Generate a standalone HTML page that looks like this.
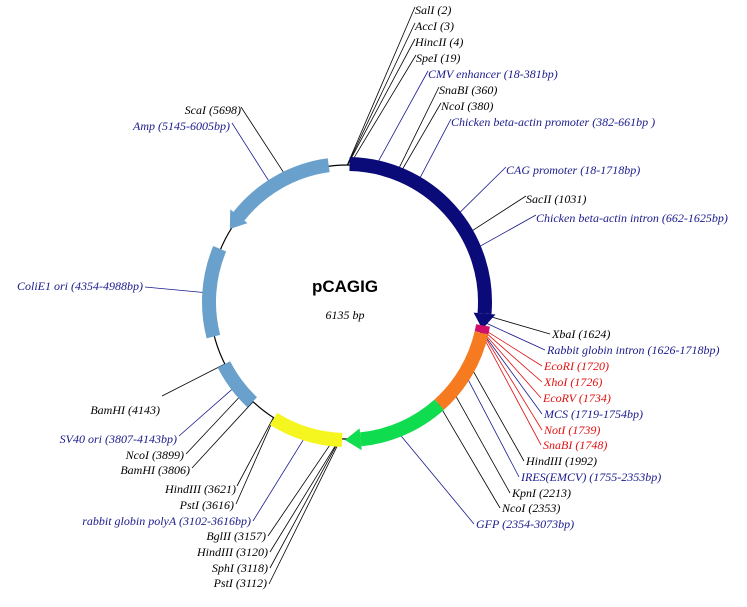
<!DOCTYPE html>
<html><head><meta charset="utf-8"><style>
html,body{margin:0;padding:0;background:#fff;}
svg{display:block}
text{font-family:"Liberation Serif",serif;font-style:italic;font-size:12px}
.b{fill:#1a1a8c}.r{fill:#e01010}.k{fill:#000}
</style></head><body>
<svg id="s" width="747" height="607" viewBox="0 0 747 607" xmlns="http://www.w3.org/2000/svg">
<g id="lines"></g>
<circle cx="347" cy="302" r="137" fill="none" stroke="#000" stroke-width="1.2"/>
<g id="feat"></g>
<text x="345" y="292" text-anchor="middle" style="font-family:'Liberation Sans',sans-serif;font-style:normal;font-weight:bold;font-size:17px">pCAGIG</text>
<text x="345" y="319" text-anchor="middle" style="font-size:12px">6135 bp</text>
<g id="labels">
<text class="k" x="415" y="14">SalI (2)</text>
<text class="k" x="415" y="30">AccI (3)</text>
<text class="k" x="415" y="46">HincII (4)</text>
<text class="k" x="416" y="62">SpeI (19)</text>
<text class="b" x="428" y="78">CMV enhancer (18-381bp)</text>
<text class="k" x="439" y="94">SnaBI (360)</text>
<text class="k" x="441" y="110">NcoI (380)</text>
<text class="b" x="451" y="126">Chicken beta-actin promoter (382-661bp  )</text>
<text class="b" x="506" y="174">CAG promoter (18-1718bp)</text>
<text class="k" x="526" y="203">SacII (1031)</text>
<text class="b" x="536" y="222">Chicken beta-actin intron (662-1625bp)</text>
<text class="k" x="552" y="338">XbaI (1624)</text>
<text class="b" x="547" y="354">Rabbit globin intron (1626-1718bp)</text>
<text class="r" x="544" y="370">EcoRI (1720)</text>
<text class="r" x="544" y="386">XhoI (1726)</text>
<text class="r" x="543" y="402">EcoRV (1734)</text>
<text class="b" x="544" y="418">MCS (1719-1754bp)</text>
<text class="r" x="544" y="434">NotI (1739)</text>
<text class="r" x="543" y="449">SnaBI (1748)</text>
<text class="k" x="526" y="465">HindIII (1992)</text>
<text class="b" x="521" y="481">IRES(EMCV) (1755-2353bp)</text>
<text class="k" x="512" y="497">KpnI (2213)</text>
<text class="k" x="502" y="512">NcoI (2353)</text>
<text class="b" x="476" y="528">GFP (2354-3073bp)</text>
<g text-anchor="end">
<text class="k" x="160" y="414">BamHI (4143)</text>
<text class="b" x="177" y="443">SV40 ori (3807-4143bp)</text>
<text class="k" x="184" y="459">NcoI (3899)</text>
<text class="k" x="190" y="474">BamHI (3806)</text>
<text class="k" x="236" y="493">HindIII (3621)</text>
<text class="k" x="234" y="509">PstI (3616)</text>
<text class="b" x="251" y="525">rabbit globin polyA (3102-3616bp)</text>
<text class="k" x="266" y="540">BglII (3157)</text>
<text class="k" x="268" y="556">HindIII (3120)</text>
<text class="k" x="268" y="572">SphI (3118)</text>
<text class="k" x="267" y="587">PstI (3112)</text>
<text class="k" x="241" y="114">ScaI (5698)</text>
<text class="b" x="230" y="130">Amp (5145-6005bp)</text>
<text class="b" x="143" y="290">ColiE1 ori (4354-4988bp)</text>
</g>
</g>
</svg>
<script>
var cx=347,cy=302,R=137,NS="http://www.w3.org/2000/svg";
function P(a,r){a=a*Math.PI/180;return [cx+r*Math.sin(a),cy-r*Math.cos(a)];}
function el(t,at,p){var e=document.createElementNS(NS,t);for(var k in at)e.setAttribute(k,at[k]);document.getElementById(p).appendChild(e);return e;}
function arc(a1,a2,col){var p1=P(a1,R+1),p2=P(a2,R+1);var lg=(a2-a1)>180?1:0;
el("path",{d:"M"+p1[0]+" "+p1[1]+" A"+(R+1)+" "+(R+1)+" 0 "+lg+" 1 "+p2[0]+" "+p2[1],fill:"none",stroke:col,"stroke-width":14},"feat");}
function head(at,dir,col){
 var base=at-dir*6.5;var a=P(base,R+12),b=P(base,R-10),t=P(at,R+1);
 el("polygon",{points:a.join(",")+" "+t.join(",")+" "+b.join(","),fill:col},"feat");}
function deg(bp){return bp/6135*360;}
arc(deg(18),deg(1718)-6,"#0a0a78");head(deg(1718)+0.5,1,"#0a0a78");
arc(deg(1700),deg(1754),"#d0106a");
arc(deg(1755),deg(2353),"#f57a20");
arc(deg(2353),deg(3073)-6,"#10dc50");head(deg(3073)+0.5,1,"#10dc50");
arc(deg(3102),deg(3616),"#f5f520");
arc(deg(3807),deg(4143),"#6aa0cc");
arc(deg(4354),deg(4988),"#6aa0cc");
arc(deg(5145)+6,deg(6005),"#6aa0cc");head(deg(5145),-1,"#6aa0cc");
var K="#000",B="#1a1a8c",Rd="#e01010";
var L=[[0.1,415,7,K],[0.2,415,23,K],[0.25,415,39,K],[1.1,416,55,K],[11.7,428,71,B],[21,439,87,K],[22.3,441,103,K],[30.6,451,119,B],[51.9,506,167,B],[60.5,526,196,K],[67.6,536,215,B],
[95.3,550,334,K],[98.2,545,350,B],[100.9,542,366,Rd],[101.3,542,382,Rd],[101.7,541,398,Rd],[101.9,542,414,B],[102,542,430,Rd],[102.6,541,445,Rd],[116.9,524,461,K],[121,519,477,B],[129.8,510,493,K],[138,500,508,K],[159,474,524,B],
[243.1,162,396,K],[233,179,436,B],[228.8,186,454,K],[223.3,192,468,K],[212.5,237,486,K],[212.2,236,504,K],[196.8,253,521,B],[185.3,268,536,K],[183.1,270,552,K],[183,270,568,K],[182.6,269,584,K],
[334.3,241,107,K],[327.1,232,123,B],[273.7,145,287,B]];
L.forEach(function(l){var p=P(l[0],R);el("line",{x1:p[0],y1:p[1],x2:l[1],y2:l[2],stroke:l[3],"stroke-width":0.8},"lines");});
</script>
</body></html>
